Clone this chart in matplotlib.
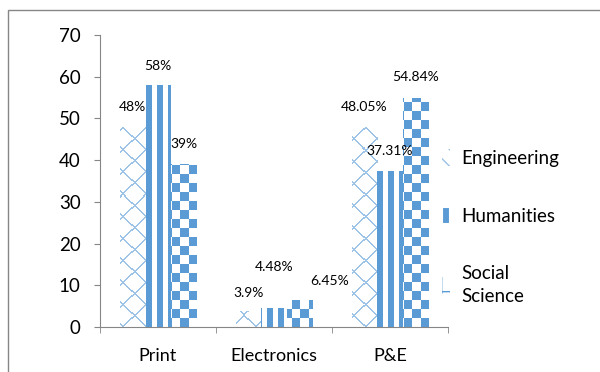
import numpy as np
import matplotlib
matplotlib.use("Agg")
import matplotlib.pyplot as plt
from matplotlib.colors import to_rgba
from matplotlib.patches import Patch, Rectangle

plt.rcParams['font.family'] = ['Lato', 'DejaVu Sans']

# data
categories = ["Print", "Electronics", "P&E"]
series_names = ["Engineering", "Humanities", "Social\nScience"]
engineering = [48, 3.9, 48.05]
humanities = [58, 4.48, 37.31]
social_science = [39, 6.45, 54.84]
value_labels = [["48%", "3.9%", "48.05%"],
                ["58%", "4.48%", "37.31%"],
                ["39%", "6.45%", "54.84%"]]
yticks = [0, 10, 20, 30, 40, 50, 60, 70]

LIGHT = "#9DC3E6"
BLUE = "#5B9BD5"
GREY = "#868686"

W, H = 600, 372
fig = plt.figure(figsize=(W / 100, H / 100), dpi=100)
ax_rect = [100 / W, 45 / H, 348 / W, 292 / H]
ax = fig.add_axes(ax_rect)

x = np.arange(len(categories))
w = 0.22
XLIM = (-0.5, 2.5)
YLIM = (0, 70)

b_eng = ax.bar(x - w, engineering, w, color="white", linewidth=0, zorder=2)
b_hum = ax.bar(x, humanities, w, color="white", linewidth=0, zorder=2)
b_soc = ax.bar(x + w, social_science, w, color="white", linewidth=0, zorder=2)


def pattern(mask, color):
    rgba = np.zeros(mask.shape + (4,))
    rgba[mask] = to_rgba(color)
    return rgba


# fill patterns, one pixel per cell over the axes area
py, px = np.mgrid[0:292, 0:348]
lattice = ((px + py) % 22 < 2) | ((px - py) % 22 < 2)
stripes = ((px - 2) % 11) < 6
checker = ((px // 8) + (py // 9)) % 2 == 0
fills = [(b_eng, pattern(lattice, LIGHT)),
         (b_hum, pattern(stripes, BLUE)),
         (b_soc, pattern(checker, BLUE))]

for bars, img in fills:
    for bar in bars:
        im = ax.imshow(img, extent=XLIM + YLIM, aspect="auto",
                       interpolation="nearest", origin="lower", zorder=2.5)
        im.set_clip_path(bar)
ax.set_xlim(*XLIM)
ax.set_ylim(*YLIM)

# value labels, offsets in pixels from the bar top
offsets = [[(0, 20), (0, 18), (0, 20)],
           [(0, 19), (0, 41), (0, 20)],
           [(0, 20), (30, 19), (0, 21)]]
for s, bars in enumerate([b_eng, b_hum, b_soc]):
    for i, bar in enumerate(bars):
        ax.annotate(value_labels[s][i],
                    (bar.get_x() + bar.get_width() / 2, bar.get_height()),
                    xytext=offsets[s][i], textcoords="offset pixels",
                    ha="center", va="center", fontsize=10)

ax.set_yticks(yticks)
ax.set_xticks(x)
ax.set_xticklabels(categories)
ax.set_xticks([-0.5, 0.5, 1.5, 2.5], minor=True)
ax.tick_params(axis="x", which="major", length=0, pad=15, labelsize=13)
ax.tick_params(axis="x", which="minor", length=4, color=GREY, direction="out")
ax.tick_params(axis="y", length=4, color=GREY, pad=10, labelsize=13.5)
for side in ["top", "right"]:
    ax.spines[side].set_visible(False)
for side in ["left", "bottom"]:
    ax.spines[side].set_color(GREY)

# legend with small pattern swatches
with plt.rc_context({'hatch.linewidth': 1.5}):
    h1 = Patch(facecolor="white", edgecolor=LIGHT, linewidth=0, hatch="\\\\")
    h3 = Patch(facecolor="white", edgecolor=BLUE, linewidth=0, hatch="+")
h2 = Patch(facecolor=BLUE, edgecolor="white", linewidth=1.5)
leg = fig.legend([h1, h2, h3], series_names, loc="center left",
                 bbox_to_anchor=(0.708, 0.39), frameon=False, fontsize=13.5,
                 handlelength=0.45, handleheight=1.0, handletextpad=0.6,
                 labelspacing=2.15)
for t in leg.get_texts():
    t.set_linespacing(1.4)

# outer chart border
fig.patches.append(Rectangle((8, -10), 620, H, transform=None,
                             fill=False, edgecolor=GREY, linewidth=1))

fig.savefig("out.png", dpi=100)
